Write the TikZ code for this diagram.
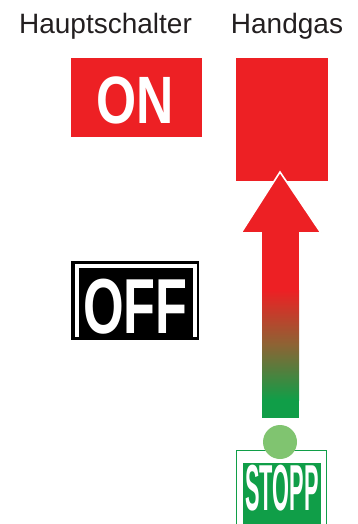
\documentclass[tikz,border=0pt]{standalone}
\usepackage{fontspec}
\setmainfont{Liberation Sans}
\usepackage{graphicx}
\definecolor{hred}{RGB}{237,32,36}
\definecolor{hgreen}{RGB}{16,158,72}
\definecolor{lgreen}{RGB}{128,196,112}
\definecolor{hgray}{RGB}{35,31,32}
\tikzset{
  panel/.style={draw=none, inner sep=0pt, outer sep=0pt},
  heading/.style={inner sep=0pt, anchor=base, text=hgray, font=\fontsize{28}{30}\selectfont},
  bigword/.style={inner sep=0pt, anchor=base, text=white},
}
\begin{document}
\begin{tikzpicture}[x=1pt,y=-1pt]
\useasboundingbox (0,0) rectangle (358,524);
% headings
\node[heading] (hs) at (105.5,34) {Hauptschalter};
\node[heading] (hg) at (287,34) {Handgas};
% ON box
\node[panel, fill=hred, minimum width=131pt, minimum height=79pt] (on) at (136.5,97.5) {};
\node[bigword, font=\bfseries\fontsize{67}{67}\selectfont] (ontxt) at (135,123) {\scalebox{0.77}[1]{ON}};
% Handgas box
\node[panel, fill=hred, minimum width=92pt, minimum height=123pt] (hgbox) at (282,119.5) {};
% OFF box
\node[panel, fill=black, minimum width=128pt, minimum height=79pt] (off) at (135,300.5) {};
\draw[white, line width=4pt] (76.5,336.5) -- (76.5,265.5) -- (195,265.5) -- (195,336.5);
\node[bigword, font=\bfseries\fontsize{78}{78}\selectfont] (offtxt) at (135.5,333) {\scalebox{0.67}[1]{OFF}};
% arrow
\coordinate (tip) at (280,172);
\filldraw[hred, draw=white, line width=1.6pt, line join=miter] (tip) -- (321,233) -- (241,233) -- cycle;
\fill[hred] (262,232) rectangle (299,290.5);
\shade[top color=hred, bottom color=hgreen, middle color={rgb,255:red,140;green,100;blue,52}] (262,290) rectangle (299,400);
\fill[hgreen] (262,399.5) rectangle (299,418);
% STOPP box
\draw[hgreen, line width=1.2pt] (236.6,524) -- (236.6,450.6) -- (326.4,450.6) -- (326.4,524);
\node[panel, fill=hgreen, minimum width=78pt, minimum height=61pt] (stopp) at (282,493.5) {};
\node[bigword, font=\bfseries\fontsize{65}{65}\selectfont] (stopptxt) at (282,510.5) {\scalebox{0.335}[1]{STOPP}};
\node[circle, fill=lgreen, inner sep=0pt, minimum size=34pt] (knob) at (280,442) {};
\end{tikzpicture}
\end{document}
